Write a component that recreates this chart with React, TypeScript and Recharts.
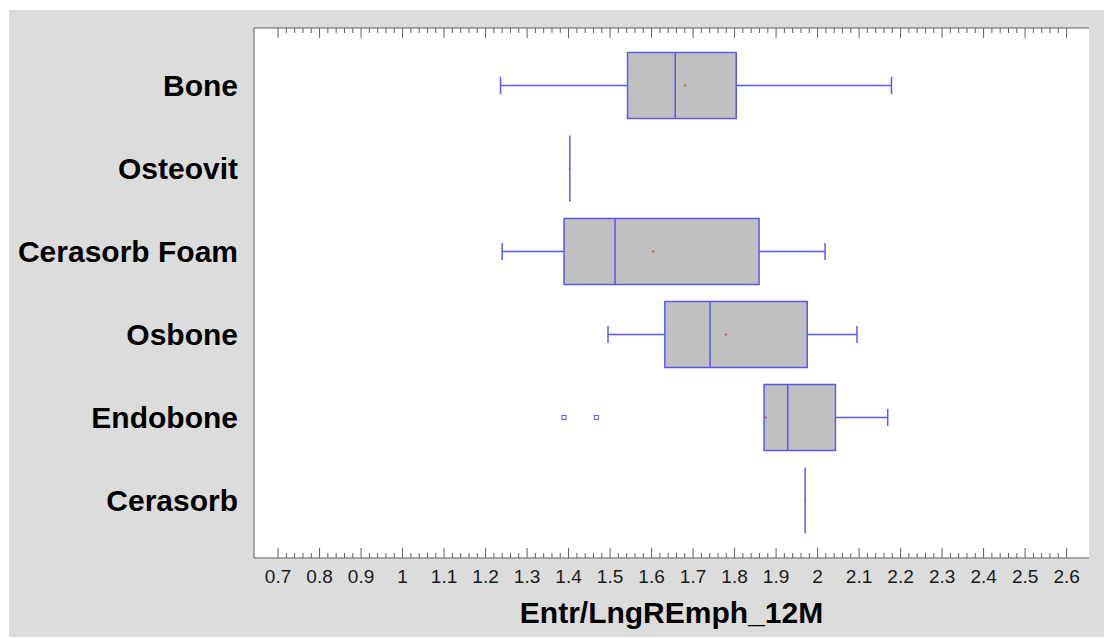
import React from 'react';
import { ComposedChart, Bar, XAxis, YAxis, CartesianGrid, Label } from 'recharts';

const categories = ['Bone', 'Osteovit', 'Cerasorb Foam', 'Osbone', 'Endobone', 'Cerasorb'];
const whiskerLow = [1.236, 1.403, 1.24, 1.495, 1.871, 1.97];
const quartile1 = [1.542, 1.403, 1.389, 1.632, 1.871, 1.97];
const medians = [1.657, 1.403, 1.512, 1.741, 1.928, 1.97];
const quartile3 = [1.804, 1.403, 1.859, 1.975, 2.043, 1.97];
const whiskerHigh = [2.178, 1.403, 2.018, 2.095, 2.169, 1.97];
const means = [1.681, 1.403, 1.604, 1.779, 1.875, 1.97];
const outliers: number[][] = [[], [], [], [], [1.389, 1.467], []];

const majorTicks = [0.7, 0.8, 0.9, 1, 1.1, 1.2, 1.3, 1.4, 1.5, 1.6, 1.7, 1.8, 1.9, 2, 2.1, 2.2, 2.3, 2.4, 2.5, 2.6];
const minorTicks = majorTicks
  .slice(0, -1)
  .flatMap((t) => [1, 2, 3, 4].map((k) => Math.round((t + 0.02 * k) * 1000) / 1000));
const allTicks = [...majorTicks, ...minorTicks].sort((a, b) => a - b);
const xDomain: [number, number] = [0.642, 2.654];
const xLabel = 'Entr/LngREmph_12M';

const data = categories.map((name, i) => {
  const lows = [whiskerLow[i], ...outliers[i]];
  return {
    name,
    low: whiskerLow[i],
    q1: quartile1[i],
    median: medians[i],
    q3: quartile3[i],
    high: whiskerHigh[i],
    mean: means[i],
    outliers: outliers[i],
    span: [Math.min(...lows), whiskerHigh[i]],
  };
});

const BLUE = '#5858f2';
const FRAME = '#606060';

function BoxPlotShape(props: any) {
  const { x, y, width, height, payload } = props;
  if (!payload) return null;
  const [lo, hi] = payload.span;
  const px = (v: number) => (hi === lo ? x : x + ((v - lo) / (hi - lo)) * width);
  const cy = y + height / 2;
  const cap = 8.5;
  const xLow = px(payload.low);
  const xQ1 = px(payload.q1);
  const xMed = px(payload.median);
  const xQ3 = px(payload.q3);
  const xHigh = px(payload.high);
  const xMean = px(payload.mean);
  const degenerate = payload.q1 === payload.q3;
  return (
    <g>
      {degenerate ? (
        <line x1={xMed} x2={xMed} y1={y} y2={y + height} stroke={BLUE} strokeWidth={1.5} />
      ) : (
        <g>
          {xLow < xQ1 - 0.5 && (
            <g>
              <line x1={xLow} x2={xQ1} y1={cy} y2={cy} stroke={BLUE} strokeWidth={1.5} />
              <line x1={xLow} x2={xLow} y1={cy - cap} y2={cy + cap} stroke={BLUE} strokeWidth={1.5} />
            </g>
          )}
          {xHigh > xQ3 + 0.5 && (
            <g>
              <line x1={xQ3} x2={xHigh} y1={cy} y2={cy} stroke={BLUE} strokeWidth={1.5} />
              <line x1={xHigh} x2={xHigh} y1={cy - cap} y2={cy + cap} stroke={BLUE} strokeWidth={1.5} />
            </g>
          )}
          <rect x={xQ1} y={y} width={xQ3 - xQ1} height={height} fill="#c0c0c0" stroke={BLUE} strokeWidth={1.5} />
          <line x1={xMed} x2={xMed} y1={y} y2={y + height} stroke={BLUE} strokeWidth={1.5} />
        </g>
      )}
      <rect x={xMean - 1} y={cy - 1} width={2} height={2} fill="#b8603a" />
      {payload.outliers.map((o: number, k: number) => (
        <rect key={k} x={px(o) - 2} y={cy - 2} width={4} height={4} fill="#fff" stroke={BLUE} strokeWidth={1} />
      ))}
    </g>
  );
}

const isMajor = (v: number) => majorTicks.some((m) => Math.abs(m - v) < 1e-6);

function makeTickMark(direction: number) {
  return function TickMark(props: any) {
    const { x, y, payload } = props;
    const len = isMajor(payload.value) ? 10 : 5;
    return <line x1={x} x2={x} y1={y} y2={y + direction * len} stroke={FRAME} strokeWidth={1} />;
  };
}
const BottomTick = makeTickMark(-1);
const TopTick = makeTickMark(1);

const tickFont = "'Liberation Sans Narrow', 'Arial Narrow', 'Liberation Sans', Arial, sans-serif";
const boldFont = "'Liberation Sans', Arial, sans-serif";

export default function App() {
  return (
    <div style={{ position: 'relative', left: 1, top: 2, width: 1099, height: 629 }}>
      <ComposedChart
        width={1099}
        height={629}
        data={data}
        layout="vertical"
        margin={{ top: 18, right: 19, left: 0, bottom: 0 }}
        style={{ background: '#dcdcdc' }}
      >
        <CartesianGrid xAxisId="main" yAxisId="cat" horizontal={false} vertical={false} fill="#ffffff" />
        <XAxis
          xAxisId="main"
          type="number"
          orientation="bottom"
          domain={xDomain}
          allowDataOverflow
          ticks={majorTicks}
          interval={0}
          height={81}
          tickLine={false}
          tickSize={0}
          tickMargin={11.5}
          axisLine={{ stroke: FRAME, strokeWidth: 1 }}
          tick={{ fontSize: 19, fill: '#1a1a1a', fontFamily: tickFont }}
        >
          <Label
            value={xLabel}
            position="insideBottom"
            offset={16}
            fontSize={30}
            fontWeight="bold"
            fill="#000"
            fontFamily={boldFont}
          />
        </XAxis>
        <XAxis
          xAxisId="ticksB"
          type="number"
          orientation="bottom"
          mirror
          height={12}
          domain={xDomain}
          allowDataOverflow
          ticks={allTicks}
          interval={0}
          tick={BottomTick}
          tickSize={0}
          tickMargin={0}
          tickLine={false}
          axisLine={false}
        />
        <XAxis
          xAxisId="ticksT"
          type="number"
          orientation="top"
          mirror
          height={12}
          domain={xDomain}
          allowDataOverflow
          ticks={allTicks}
          interval={0}
          tick={TopTick}
          tickSize={0}
          tickMargin={0}
          tickLine={false}
          axisLine={{ stroke: FRAME }}
        />
        <YAxis
          yAxisId="cat"
          type="category"
          dataKey="name"
          width={245}
          padding={{ top: 15.5, bottom: 16.5 }}
          tickLine={false}
          tickSize={0}
          tickMargin={16}
          interval={0}
          axisLine={{ stroke: FRAME }}
          tick={{ fontSize: 30, fontWeight: 'bold', fill: '#000', fontFamily: boldFont }}
        />
        <YAxis
          yAxisId="right"
          type="number"
          orientation="right"
          mirror
          width={0}
          domain={[0, 1]}
          tick={false}
          tickLine={false}
          axisLine={{ stroke: FRAME }}
        />
        <Bar
          xAxisId="main"
          yAxisId="cat"
          dataKey="span"
          barSize={66}
          isAnimationActive={false}
          shape={BoxPlotShape}
        />
      </ComposedChart>
    </div>
  );
}
